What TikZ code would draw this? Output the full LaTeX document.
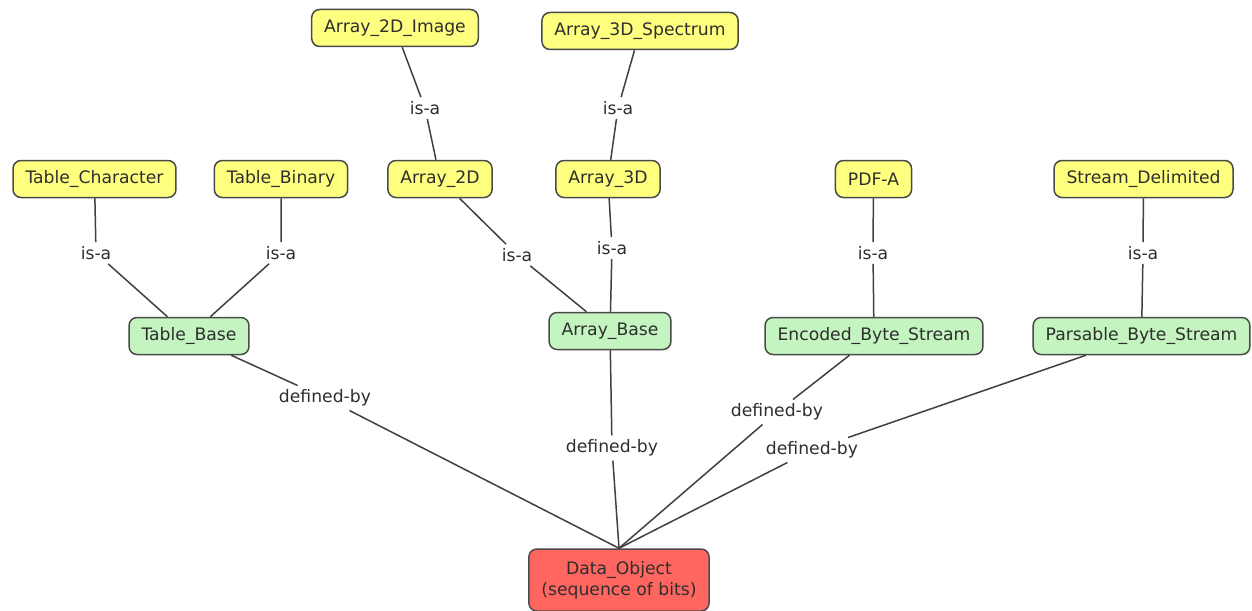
\documentclass[tikz,border=0pt]{standalone}
\usepackage{fontspec}
\setmainfont{DejaVu Sans}
\usetikzlibrary{positioning}

\definecolor{leafyellow}{HTML}{FFFF7F}
\definecolor{basegreen}{HTML}{C4F5C0}
\definecolor{rootred}{HTML}{FF6660}
\definecolor{boxline}{HTML}{4A4A4A}
\definecolor{linkline}{HTML}{404040}
\definecolor{inktext}{HTML}{2E2E2E}

\tikzset{
  concept/.style={draw=boxline, line width=1.5pt, rounded corners=8pt,
    fill=leafyellow, text=inktext, minimum height=37pt, inner xsep=12.5pt,
    font=\fontsize{17.2}{21}\selectfont},
  baseconcept/.style={concept, fill=basegreen},
  rootconcept/.style={concept, fill=rootred, align=center, minimum height=62pt},
  phrase/.style={text=inktext, inner sep=4pt, font=\fontsize{17.2}{21}\selectfont},
  link/.style={draw=linkline, line width=1.5pt}
}

\begin{document}
\begin{tikzpicture}[x=1pt, y=-1pt]
    \useasboundingbox (0,0) rectangle (1252,610);

    % leaf concepts
    \node[concept] (a2dimg)  at (395,28)   {Array\_2D\_Image};
    \node[concept] (a3dspec) at (640,31)   {Array\_3D\_Spectrum};
    \node[concept] (tchar)   at (94.5,179) {Table\_Character};
    \node[concept] (tbin)    at (281,179)  {Table\_Binary};
    \node[concept] (a2d)     at (440,179)  {Array\_2D};
    \node[concept] (a3d)     at (608,179)  {Array\_3D};
    \node[concept] (pdfa)    at (873.5,179) {PDF-A};
    \node[concept] (sdelim)  at (1143.5,179) {Stream\_Delimited};

    % base structures
    \node[baseconcept] (tbase) at (189,336)  {Table\_Base};
    \node[baseconcept] (abase) at (610,331)  {Array\_Base};
    \node[baseconcept] (ebs)   at (874,336)  {Encoded\_Byte\_Stream};
    \node[baseconcept] (pbs)   at (1141.5,336) {Parsable\_Byte\_Stream};

    % root
    \node[rootconcept] (dobj) at (619,580) {Data\_Object\\(sequence of bits)};

    % is-a links: child / phrase position / parent
    \foreach \child/\px/\py/\parent in {tchar/96/253/tbase, tbin/281/253/tbase,
        a2dimg/425/108/a2d, a3dspec/618/108/a3d, a2d/517/255/abase,
        a3d/612/248/abase, pdfa/873/253/ebs, sdelim/1143/253/pbs} {
        \node[phrase] (isa-\child) at (\px,\py) {is-a};
        \draw[link] (\child) -- (isa-\child) -- (\parent);
    }

    % defined-by links down to the root
    \foreach \base/\px/\py in {tbase/325/398, abase/612/448, ebs/777/412, pbs/812/450} {
        \node[phrase] (def-\base) at (\px,\py) {defined-by};
        \draw[link] (\base) -- (def-\base) -- (dobj.north);
    }
\end{tikzpicture}
\end{document}
